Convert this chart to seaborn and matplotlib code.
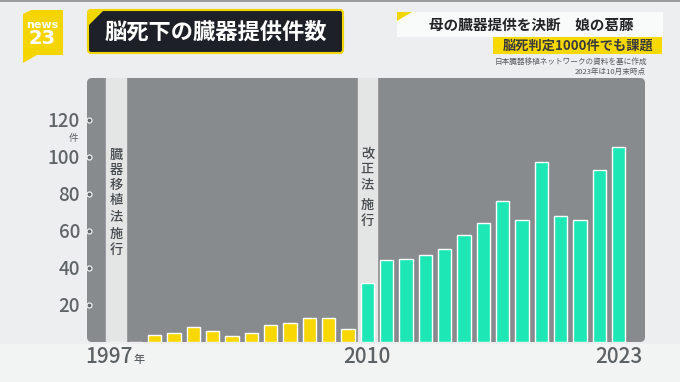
import matplotlib
matplotlib.use("Agg")
import matplotlib.pyplot as plt
from matplotlib.patches import FancyBboxPatch, Polygon, Rectangle
import pandas as pd
import seaborn as sns

# 脳死下の臓器提供件数 (1997-2023, 2023年は10月末時点)
years = list(range(1997, 2024))
cases = [0, 0, 4, 5, 8, 6, 3, 5, 9, 10, 13, 13, 7,
         32, 44, 45, 47, 50, 58, 64, 76, 66, 97, 68, 66, 93, 105]
eras = ["施行前後"] * 13 + ["改正法後"] * 14
era_colors = {"施行前後": "#f8d800", "改正法後": "#1de8b5"}
y_ticks = [20, 40, 60, 80, 100, 120]
x_marks = [1997, 2010, 2023]
band_years = [1997, 2010]
band_labels = [("臓\n器\n移\n植\n法", "施\n行"), ("改\n正\n法", "施\n行")]

sns.set_theme(style="white")
plt.rcParams["font.family"] = ["Noto Sans CJK JP", "DejaVu Sans"]

W, H = 680, 382
fig = plt.figure(figsize=(W / 100, H / 100), dpi=100, facecolor="#eceef0")
deco = fig.dpi_scale_trans


def pt(x, y):
    # pixel position (from top-left) -> inches for the figure decoration
    return x / 100, (H - y) / 100


def box(x0, y0, x1, y1, **kw):
    fig.add_artist(FancyBboxPatch(pt(x0, y1), (x1 - x0) / 100, (y1 - y0) / 100,
                                  transform=deco, **kw))


# background pieces
fig.add_artist(Rectangle(pt(0, H), W / 100, 0.38, transform=deco,
                         facecolor="#f2f4f4", edgecolor="none", zorder=-2))
fig.add_artist(Rectangle(pt(0, 2), W / 100, 0.02, transform=deco,
                         facecolor="#9a9c9e", edgecolor="none", zorder=-2))

# chart panel
ax = fig.add_axes([87 / W, 1 - 342 / H, (645 - 87) / W, (342 - 78) / H])
ax.patch.set_visible(False)
box(87, 78, 645, 342, boxstyle="round,pad=0,rounding_size=0.05",
    facecolor="#888b8e", edgecolor="none", zorder=-1)

df = pd.DataFrame({"year": years, "cases": cases, "era": eras})

for yr in band_years:
    i = years.index(yr)
    ax.axvspan(i - 0.5, i + 0.5, color="#e4e6e6", zorder=0)

sns.barplot(data=df, x="year", y="cases", hue="era", palette=era_colors,
            order=years, dodge=False, width=0.69, legend=False,
            saturation=1, ax=ax, zorder=2)

ax.set_xlim(-1.5, len(years) + 0.36)
ax.set_ylim(0, 142.5)
for s in ax.spines.values():
    s.set_visible(False)
ax.set_xlabel("")
ax.set_ylabel("")
ax.set_xticks([])
ax.set_yticks(y_ticks)
ax.set_yticklabels([str(v) for v in y_ticks], fontsize=13.5, color="#5f6467",
                   fontweight="medium")
ax.tick_params(axis="y", length=0, pad=5)
ax.scatter([0.003] * len(y_ticks), y_ticks, transform=ax.get_yaxis_transform(),
           s=13, color="#62676a", edgecolor="#eef0f0", linewidth=0.9,
           clip_on=False, zorder=5)
ax.annotate("件", xy=(0, 120), xycoords=ax.get_yaxis_transform(),
            xytext=(-13, -18), textcoords="offset pixels",
            ha="center", va="center", fontsize=7, color="#5f6467")

# band captions (vertical)
tops = [(105, 62), (105.5, 77.5)]
for yr, (t1, t2), (y1, y2) in zip(band_years, band_labels, tops):
    i = years.index(yr)
    for txt, yy in [(t1, y1), (t2, y2)]:
        ax.text(i, yy, txt, ha="center", va="top", fontsize=9.5,
                linespacing=1.12, color="#464b4e", fontweight="medium", zorder=3)

# x labels
lab = dict(fontsize=15, color="#5c6164", fontweight="medium",
           textcoords="offset pixels", va="baseline", annotation_clip=False)
for yr in x_marks:
    i = years.index(yr)
    if yr == x_marks[0]:
        ax.annotate(str(yr), xy=(i, 0), xytext=(17, -21), ha="right", **lab)
        ax.annotate("年", xy=(i, 0), xytext=(18, -21), ha="left",
                    **{**lab, "fontsize": 8})
    else:
        ax.annotate(str(yr), xy=(i, 0), xytext=(0, -21), ha="center", **lab)

# news23 logo
fig.add_artist(Polygon([pt(23, 14), pt(31, 10), pt(63, 10), pt(63, 55),
                        pt(37, 55), pt(23, 63)], closed=True, transform=deco,
                       facecolor="#f5d500", edgecolor="none"))
fig.text(*pt(42, 25), "news", transform=deco, ha="center", va="center",
         fontsize=8, fontweight="bold", color="white", family="DejaVu Sans")
fig.text(*pt(42, 39), "23", transform=deco, ha="center", va="center",
         fontsize=14, fontweight="bold", color="white", family="DejaVu Sans")

# title box
box(88, 10, 343, 53, boxstyle="round,pad=0,rounding_size=0.03",
    facecolor="#1d2127", edgecolor="#f2d600", linewidth=1.5)
fig.add_artist(Polygon([pt(88, 10), pt(104, 10), pt(88, 26)], closed=True,
                       transform=deco, facecolor="#f2d600", edgecolor="none"))
fig.text(*pt(216, 32), "脳死下の臓器提供件数", transform=deco, ha="center",
         va="center", fontsize=16, fontweight="bold", color="white")

# right header
fig.add_artist(Rectangle(pt(397, 37), 2.66, 0.25, transform=deco,
                         facecolor="#f9fafa", edgecolor="none"))
fig.add_artist(Polygon([pt(397, 12), pt(412, 12), pt(397, 21)], closed=True,
                       transform=deco, facecolor="#f2d600", edgecolor="none"))
fig.text(*pt(531, 25), "母の臓器提供を決断\u3000娘の葛藤", transform=deco,
         ha="center", va="center", fontsize=10.5, fontweight="bold", color="#222426")
fig.add_artist(Rectangle(pt(493, 54), 1.69, 0.17, transform=deco,
                         facecolor="#f7d800", edgecolor="none"))
fig.text(*pt(578, 45.5), "脳死判定1000件でも課題", transform=deco,
         ha="center", va="center", fontsize=9.5, fontweight="bold", color="#3a3b3c")
fig.text(*pt(647, 62), "日本臓器移植ネットワークの資料を基に作成", transform=deco,
         ha="right", va="center", fontsize=5.5, color="#555a5d")
fig.text(*pt(646, 72), "2023年は10月末時点", transform=deco,
         ha="right", va="center", fontsize=5.5, color="#555a5d")

fig.savefig("out.png", dpi=100, facecolor=fig.get_facecolor())
